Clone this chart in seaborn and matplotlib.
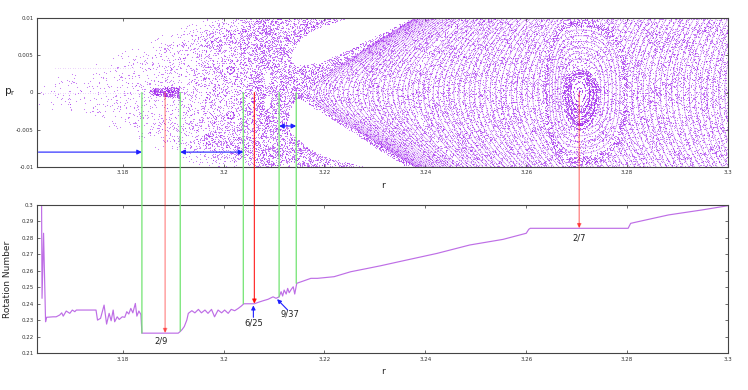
import numpy as np
import matplotlib
matplotlib.use('Agg')
import matplotlib.pyplot as plt
from matplotlib.patches import ConnectionPatch
from matplotlib.path import Path
import seaborn as sns


# Rotation number along p_r = 0 (bottom panel)
rot_r = [3.1639, 3.1640, 3.1643, 3.1647, 3.1649, 3.1662, 3.1668, 3.1675, 3.1679, 3.1682,
         3.1688, 3.1695, 3.1700, 3.1705, 3.1708, 3.1747, 3.1750, 3.1756, 3.1763, 3.1768,
         3.1773, 3.1777, 3.1781, 3.1784, 3.1789, 3.1793, 3.1799, 3.1804, 3.1808, 3.1812,
         3.1816, 3.1820, 3.1825, 3.1828, 3.1832, 3.1836, 3.1838, 3.1910, 3.1914, 3.1918,
         3.1922, 3.1927, 3.1930, 3.1937, 3.1943, 3.1950, 3.1956, 3.1963, 3.1969, 3.1976,
         3.1982, 3.1989, 3.1996, 3.2002, 3.2009, 3.2015, 3.2022, 3.2029, 3.2035, 3.2040,
         3.2061, 3.2068, 3.2078, 3.2088, 3.2098, 3.2104, 3.2110, 3.2114, 3.2117, 3.2120,
         3.2124, 3.2127, 3.2130, 3.2134, 3.2138, 3.2141, 3.2145, 3.2160, 3.2173, 3.2186,
         3.2219, 3.2252, 3.2285, 3.2311, 3.2357, 3.2423, 3.2488, 3.2554, 3.2600, 3.2605,
         3.2608, 3.2802, 3.2807, 3.2817, 3.2882, 3.2948, 3.3000]
rot_nu = [0.305, 0.2433, 0.2827, 0.2291, 0.2318, 0.2321, 0.2321, 0.2332, 0.2345, 0.2325,
          0.2356, 0.2342, 0.2362, 0.2352, 0.2362, 0.2362, 0.2301, 0.2312, 0.2392, 0.2277,
          0.2342, 0.2297, 0.2362, 0.2291, 0.2321, 0.2305, 0.2321, 0.2318, 0.2352, 0.2338,
          0.2372, 0.2345, 0.2402, 0.2325, 0.2356, 0.2335, 0.2222, 0.2222, 0.2232, 0.2245,
          0.2262, 0.2301, 0.2342, 0.2358, 0.2345, 0.2366, 0.2345, 0.2362, 0.2342, 0.2366,
          0.2321, 0.2362, 0.2345, 0.2362, 0.2342, 0.2366, 0.2358, 0.2372, 0.2386, 0.2400,
          0.2400, 0.2408, 0.2418, 0.2427, 0.2442, 0.2433, 0.2442, 0.2473, 0.2447, 0.2483,
          0.2459, 0.2493, 0.2467, 0.2487, 0.2503, 0.2459, 0.2524, 0.2540, 0.2554, 0.2554,
          0.2564, 0.2594, 0.2614, 0.2630, 0.2661, 0.2705, 0.2756, 0.2790, 0.2827, 0.2851,
          0.2857, 0.2857, 0.2887, 0.2894, 0.2938, 0.2968, 0.2994]

# resonance labels
res_labels = ['2/9', '6/25', '9/37', '2/7']
res_label_r = [3.1876, 3.2059, 3.2132, 3.2705]
res_label_nu = [0.2176, 0.2285, 0.2336, 0.2796]

# lines from the section (p_r = 0) down to the curve
green_r = [3.1838, 3.1914, 3.2039, 3.2110, 3.2144]
green_nu = [0.2222, 0.2235, 0.2400, 0.2442, 0.2524]
red_r = [3.1884, 3.2061, 3.2705]
red_nu = [0.2222, 0.2400, 0.2857]
red_alpha = [0.45, 0.8, 0.5]

# blue arrows: top panel (r start, r end, p_r, style), bottom panel (tail, head)
blue_top = [(3.1633, 3.1838, -0.008, '-|>'),
            (3.1914, 3.2039, -0.008, '<|-|>'),
            (3.2110, 3.2144, -0.0045, '<|-|>')]
blue_bottom = [((3.2059, 0.2318), (3.2059, 0.2390)),
               ((3.2127, 0.2362), (3.2106, 0.2428))]

# Poincare section structures (r, p_r in units of 1e-3)
x_point = 3.2145
sep_slope = 4.4
core_r = 3.52
curve_step = 0.095          # spacing of the drawn invariant curves
funnel_r = [3.163, 3.175, 3.190, 3.199, 3.215]
funnel_w = [2.0, 4.0, 8.5, 10.5, 10.5]
chaos_r = [3.163, 3.178, 3.190, 3.200, 3.206, 3.2145]
chaos_d = [0.02, 0.035, 0.08, 0.17, 0.25, 0.3]
lane_L = [(2.18, 2.27)]
eye_up = [(3.2132, 4.42), (3.2139, 5.77), (3.2148, 6.89), (3.2168, 8.03), (3.2195, 8.92),
          (3.2228, 9.6), (3.2261, 10.3), (3.2450, 10.5), (3.2370, 9.9), (3.2346, 9.15),
          (3.2327, 8.47), (3.2294, 7.35), (3.2261, 6.22), (3.2228, 5.09), (3.2195, 4.19),
          (3.2168, 3.74), (3.2142, 3.74)]
eye_low = [(3.2152, -0.8), (3.2200, -2.9), (3.2260, -5.5), (3.2320, -8.2), (3.2360, -9.8),
           (3.2380, -10.8), (3.2267, -9.8), (3.2200, -8.6), (3.2168, -7.5), (3.2135, -5.5),
           (3.2128, -4.4), (3.2130, -2.5), (3.2140, -1.0)]
wing_up = [(3.196, 6.0), (3.2032, 7.8), (3.2090, 9.4), (3.2150, 10.3)]
wing_low = [(3.196, -6.2), (3.2049, -6.9), (3.2150, -8.6), (3.2248, -9.8), (3.2360, -10.4)]
band_r = (3.2062, 3.2105)
bubbles = [(3.2086, 1.9, 0.0006, 1.0), (3.2086, -1.3, 0.0006, 0.9)]
tongue_29 = [(3.1852, 0.1), (3.1858, 0.6), (3.1885, 0.7), (3.1912, 0.9), (3.1913, -0.8),
             (3.1895, -0.6), (3.1868, -0.4), (3.1855, -0.3)]
small_isl = [(3.2013, 3.05), (3.2013, -3.0)]
island27 = (3.2705, 0.13)
island27_outer = (35, 48, 72)          # px: left, right, half height
island27_egg = (17, 20, 22, 38)        # px: left, right, up, down
island27_hole = (8, 13)
island27_rings = [(2.7, 4.0, 0.9), (6.0, 10.0, 1.2)]
dotted_rows = [(0.0, 3.1635, 3.1842), (3.3, 3.1665, 3.1825)]

R_MIN, R_MAX = 3.163, 3.3
PX_R = 0.000198
PX_Q = 1 / 7.4
PURPLE = '#a020f0'


def chaotic_orbit(n, x, p, k=9.5):
    # orbit of a strongly chaotic standard map, fills the unit square
    xs = np.empty(n)
    ps = np.empty(n)
    for i in range(n):
        p = (p + k / (2 * np.pi) * np.sin(2 * np.pi * x)) % 1.0
        x = (x + p) % 1.0
        xs[i] = x
        ps[i] = p
    return xs, ps


def teardrop(r, q):
    U = (r - x_point) / 0.01
    Uc = (core_r - x_point) / 0.01
    Ep = U ** 2 * (1 - 2 * U / (3 * Uc)) - (q / sep_slope) ** 2
    inside = (r >= x_point) & (Ep > 0)
    return inside, np.sqrt(np.clip(Ep, 0, None))


def island_coords(r, q):
    dx = (r - island27[0]) / PX_R
    dy = (q - island27[1]) / PX_Q
    lo, ro, ho = island27_outer
    Jo = (np.abs(dx / np.where(dx < 0, lo, ro)) ** 2.6 + np.abs(dy / ho) ** 2.6) ** (1 / 2.6)
    le, re, ue, de = island27_egg
    Je = np.hypot(dx / np.where(dx < 0, le, re), dy / np.where(dy > 0, ue, de))
    return dx, dy, Jo, Je


n_pts = 160000
u1, u2 = chaotic_orbit(n_pts, 0.1234, 0.5678)
pick, _ = chaotic_orbit(n_pts, 0.7071, 0.3141)
r = R_MIN + u1 * (R_MAX - R_MIN)
q = -10.0 + 20.0 * u2
dens = np.zeros(n_pts)
pts = np.column_stack([r, q])

# chaotic funnel left of the X point
w = np.interp(r, funnel_r, funnel_w)
base = np.interp(r, chaos_r, chaos_d) * np.clip((w - np.abs(q)) / 2.0, 0.35, 1.0)
m = (r < x_point) & (np.abs(q) < w)
dens[m] = base[m]
m = (r > band_r[0]) & (r < band_r[1])
dens[m] = np.maximum(dens[m], 0.32)
for wing in (wing_up, wing_low):
    wr, wq = zip(*wing)
    m = (r >= wr[0]) & (r <= wr[-1]) & (np.abs(q - np.interp(r, wr, wq)) < 0.8)
    dens[m] = np.maximum(dens[m], 0.28)

# separatrix layer and scatter between the invariant curves
inside, Lc = teardrop(r, q)
d_in = np.where(Lc < 0.22, 0.42, 0.15)
dens[inside] = d_in[inside]
m = (r >= x_point) & ~inside & (r < 3.245)
dens[m] = 0.32

for poly in (eye_up, eye_low):
    dens[Path(poly).contains_points(pts)] = 0.0
for br, bq, hr, hq in bubbles:
    dens[((r - br) / hr) ** 2 + ((q - bq) / hq) ** 2 < 1] = 0.0
dens[Path(tongue_29).contains_points(pts)] = 1.0

for cr, cq in small_isl:
    rad = np.hypot((r - cr) / PX_R, (q - cq) / PX_Q)
    dens[rad < 6.5] = 0.0
    dens[(np.abs(rad - 3.6) < 0.7) | (rad < 0.9)] = 1.0

# the 2/7 island
dx, dy, Jo, Je = island_coords(r, q)
dens[Jo < 1] = np.where(Jo[Jo < 1] > 0.9, 0.45, 0.13)
m = Je < 1
dens[m] = np.where(((Je[m] / 0.16) % 1) < 0.55, 0.95, 0.3)
dens[np.hypot(dx / island27_hole[0], dy / island27_hole[1]) < 1] = 0.0
for rx, ry, th in island27_rings:
    Jr = np.hypot(dx / rx, dy / ry)
    dens[np.abs(Jr - 1) * (rx + ry) / 2 < th / 2] = 1.0
dens[np.hypot(dx / 1.3, dy / 1.6) < 1] = 1.0

sel = pick < dens

# grid for the invariant curves (regular region)
gr, gq = np.meshgrid(np.linspace(R_MIN, R_MAX, 1000), np.linspace(-10.4, 10.4, 420))
g_in, g_L = teardrop(gr, gq)
_, _, g_Jo, g_Je = island_coords(gr, gq)
g_pts = np.column_stack([gr.ravel(), gq.ravel()])
g_eye = (Path(eye_up).contains_points(g_pts) | Path(eye_low).contains_points(g_pts)).reshape(gr.shape)
curves = np.where(g_in & (g_Jo > 1.0) & ~g_eye, g_L, np.nan)
for lo, hi in lane_L:
    curves[(g_L > lo) & (g_L < hi) & (np.abs(gq) > 3)] = np.nan
isl_curves = np.where((g_Jo < 0.9) & (g_Je > 1.05), g_Jo, np.nan)

sns.set_style('ticks')
plt.rcParams['font.family'] = ['DejaVu Sans']

fig = plt.figure(figsize=(7.48, 3.9), dpi=100)
ax1 = fig.add_axes([37 / 748, 1 - 167 / 390, 691 / 748, 149 / 390])
ax2 = fig.add_axes([37 / 748, 1 - 353.3 / 390, 691 / 748, 148.6 / 390])

# top: Poincare section
sns.scatterplot(x=r[sel], y=q[sel] / 1000, ax=ax1, s=0.6, color=PURPLE, alpha=0.65,
                linewidth=0, marker='o', legend=False, snap=False)
ax1.contour(gr, gq / 1000, curves,
            levels=np.arange(0.25, 9.5, curve_step), colors=PURPLE,
            linewidths=0.6, linestyles=[(0, (1.0, 1.0))], alpha=0.85)
ax1.contour(gr, gq / 1000, isl_curves,
            levels=np.arange(0.45, 0.9, 0.08), colors=PURPLE,
            linewidths=0.6, linestyles=[(0, (1.0, 1.0))], alpha=0.85)
for pq, r0, r1 in dotted_rows:
    ax1.plot([r0, r1], [pq / 1000, pq / 1000], ls=(0, (0.6, 2.4)), lw=0.6,
             color=PURPLE, alpha=0.45)

# bottom: rotation number
sns.lineplot(x=rot_r, y=rot_nu, ax=ax2, color='#be6ee6', lw=0.85, sort=False,
             estimator=None)

ax1.set_xlim(R_MIN, R_MAX)
ax1.set_ylim(-0.01, 0.01)
ax2.set_xlim(R_MIN, R_MAX)
ax2.set_ylim(0.21, 0.3)
xt = [3.18, 3.2, 3.22, 3.24, 3.26, 3.28, 3.3]
for ax in (ax1, ax2):
    ax.set_xticks(xt)
    ax.set_xticklabels(['%g' % v for v in xt])
    ax.set_xlabel('')
    ax.set_ylabel('')
    ax.tick_params(direction='in', top=True, right=True, length=2.5, width=0.5,
                   labelsize=4, pad=2.5, colors='#333333')
    for sp in ax.spines.values():
        sp.set_color('#444444')
        sp.set_linewidth(0.8)
yt1 = [-0.01, -0.005, 0, 0.005, 0.01]
ax1.set_yticks(yt1)
ax1.set_yticklabels(['%g' % v for v in yt1])
yt2 = [0.21, 0.22, 0.23, 0.24, 0.25, 0.26, 0.27, 0.28, 0.29, 0.3]
ax2.set_yticks(yt2)
ax2.set_yticklabels(['%g' % v for v in yt2])

fig.text(10 / 748, 1 - 92 / 390, r'p$_{\mathregular{r}}$', fontsize=7.5,
         ha='center', va='center')
fig.text(8 / 748, 1 - 279 / 390, 'Rotation Number', fontsize=6.5, rotation=90,
         ha='center', va='center')
fig.text(383 / 748, 1 - 185 / 390, 'r', fontsize=6.5, ha='center', va='center')
fig.text(383 / 748, 1 - 372 / 390, 'r', fontsize=6.5, ha='center', va='center')

# connectors between the panels
for xr, yn in zip(green_r, green_nu):
    fig.add_artist(ConnectionPatch(xyA=(xr, 0.0), coordsA=ax1.transData,
                                   xyB=(xr, yn), coordsB=ax2.transData,
                                   color='#72e472', lw=0.9))
for xr, yn, al in zip(red_r, red_nu, red_alpha):
    fig.add_artist(ConnectionPatch(xyA=(xr, 0.0), coordsA=ax1.transData,
                                   xyB=(xr, yn), coordsB=ax2.transData,
                                   color='red', alpha=al, lw=0.9,
                                   arrowstyle='-|>', mutation_scale=6))

for r0, r1, pr, style in blue_top:
    ax1.annotate('', xy=(r1, pr), xytext=(r0, pr),
                 arrowprops=dict(arrowstyle=style, color='#1f1fff', lw=0.8,
                                 mutation_scale=7, shrinkA=0, shrinkB=0))
for tail, head in blue_bottom:
    ax2.annotate('', xy=head, xytext=tail,
                 arrowprops=dict(arrowstyle='-|>', color='#1f1fff', lw=0.8,
                                 mutation_scale=6, shrinkA=0, shrinkB=0))
for lab, lr, ln in zip(res_labels, res_label_r, res_label_nu):
    ax2.text(lr, ln, lab, fontsize=6, ha='center', va='center', color='#222222')

fig.savefig('out.png', dpi=100)
